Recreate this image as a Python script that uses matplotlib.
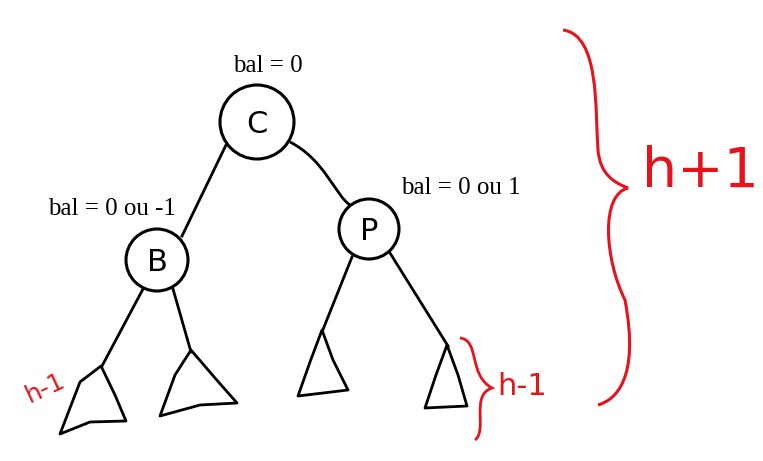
import matplotlib
matplotlib.use("Agg")
import matplotlib.pyplot as plt
from matplotlib.patches import Circle, Polygon
from matplotlib.path import Path
from matplotlib.patches import PathPatch

node_names = ["C", "B", "P"]
node_x = [257, 157, 369]
node_y = [122, 260, 229]
node_r = [37, 31, 30]
bal_labels = ["bal = 0", "bal = 0 ou -1", "bal = 0 ou 1"]
bal_x = [268, 112, 461]
bal_y = [66, 209, 188]

edges = [((226, 145), (182, 236)), ((143, 289), (102, 366)), ((173, 289), (191, 352)),
         ((352, 257), (322, 332)), ((390, 253), (448, 346))]
triangles = [[(101, 366), (80, 382), (60, 434), (90, 422), (126, 421), (115, 395)],
             [(191, 350), (175, 375), (160, 416), (200, 405), (237, 403), (215, 378)],
             [(322, 330), (310, 362), (298, 396), (348, 390), (333, 360)],
             [(447, 345), (436, 375), (425, 408), (467, 406), (458, 375)]]

fig = plt.figure(figsize=(7.63, 4.61), dpi=100)
ax = fig.add_axes([0, 0, 1, 1])
ax.set_xlim(0, 763); ax.set_ylim(461, 0); ax.axis("off")

for n, x, y, r in zip(node_names, node_x, node_y, node_r):
    ax.add_patch(Circle((x, y), r, fill=False, lw=2.2, color="black"))
    ax.text(x, y + 2, n, fontsize=22, ha="center", va="center", family="DejaVu Sans")
for t, x, y in zip(bal_labels, bal_x, bal_y):
    ax.text(x, y, t, fontsize=18, ha="center", va="center", family="Liberation Serif")
for (a, b) in edges:
    ax.plot([a[0], b[0]], [a[1], b[1]], color="black", lw=2)
ax.add_patch(PathPatch(Path([(290, 142), (325, 160), (335, 195), (350, 205)],
                            [Path.MOVETO, Path.CURVE4, Path.CURVE4, Path.CURVE4]),
                       fill=False, lw=2, color="black"))
for tri in triangles:
    ax.add_patch(Polygon(tri, closed=True, fill=False, lw=2, color="black", joinstyle="round"))

red = "#e8131a"
ax.add_patch(PathPatch(Path([(563, 30), (600, 35), (595, 110), (598, 150), (600, 175), (615, 183), (628, 188),
                             (600, 195), (605, 260), (625, 300), (640, 380), (615, 400), (598, 405)],
                            [Path.MOVETO] + [Path.CURVE4] * 12), fill=False, lw=2.2, color=red))
ax.text(700, 172, "h+1", fontsize=40, color=red, ha="center", va="center", family="DejaVu Sans")
ax.add_patch(PathPatch(Path([(460, 338), (480, 340), (468, 375), (492, 388),
                             (470, 395), (488, 430), (475, 440)],
                            [Path.MOVETO] + [Path.CURVE4] * 6), fill=False, lw=2, color=red))
ax.text(522, 386, "h-1", fontsize=22, color=red, ha="center", va="center", family="DejaVu Sans")
ax.text(45, 388, "h-1", fontsize=18, color=red, ha="center", va="center", rotation=25,
        family="DejaVu Sans")

fig.savefig("out.png", dpi=100)
